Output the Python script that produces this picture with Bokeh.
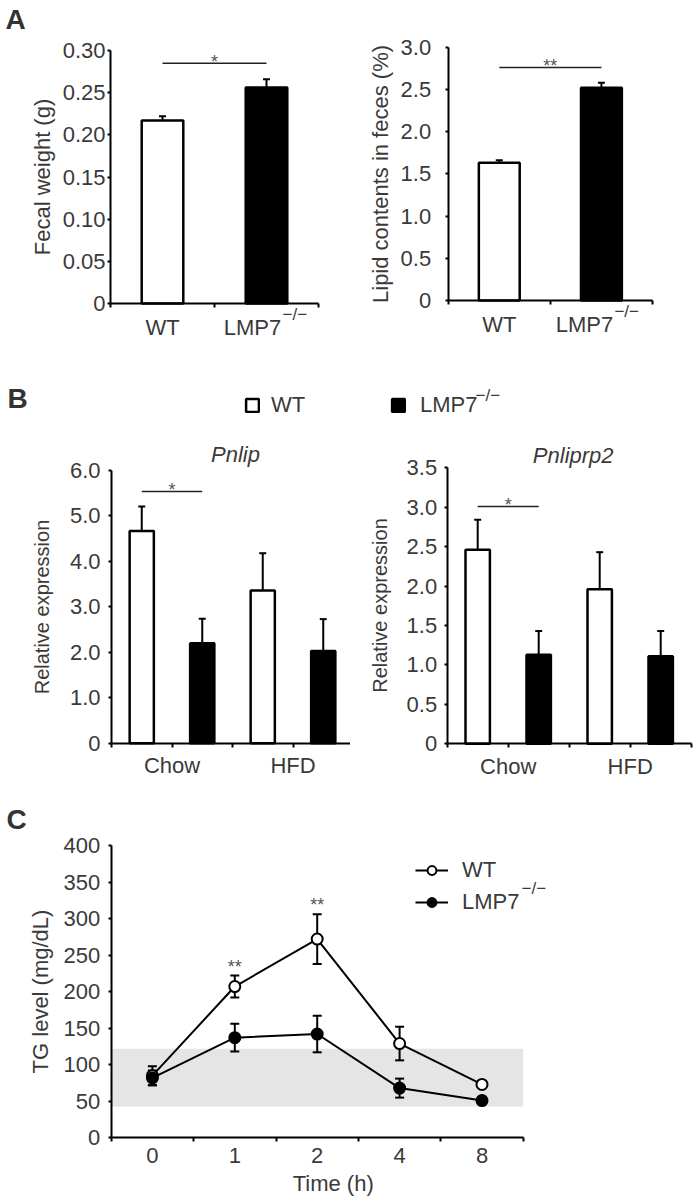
from bokeh.plotting import figure
from bokeh.models import (ColumnDataSource, Range1d, FixedTicker, Whisker, TeeHead, Label,
                          Legend, LegendItem, BoxAnnotation, NumeralTickFormatter, LinearAxis)
from bokeh.layouts import column, row
from bokeh.embed import file_html
from bokeh.resources import INLINE
from bokeh.core.properties import value

# ---------------- data ----------------
genotypes = ["WT", "LMP7"]
fecal_weight = [0.217, 0.256]
fecal_weight_err = [0.005, 0.010]
lipid_content = [1.63, 2.52]
lipid_content_err = [0.03, 0.06]
fecal_ticks = [0, 0.05, 0.10, 0.15, 0.20, 0.25, 0.30]
lipid_ticks = [0, 0.5, 1.0, 1.5, 2.0, 2.5, 3.0]
sig_fecal = ("*", 0.285)
sig_lipid = ("**", 2.76)

diets = ["Chow", "HFD"]
pnlip_wt = [4.67, 3.36]
pnlip_wt_err = [0.54, 0.82]
pnlip_ko = [2.20, 2.03]
pnlip_ko_err = [0.54, 0.70]
pnliprp2_wt = [2.46, 1.96]
pnliprp2_wt_err = [0.38, 0.47]
pnliprp2_ko = [1.13, 1.11]
pnliprp2_ko_err = [0.30, 0.32]
pnlip_ticks = [0, 1, 2, 3, 4, 5, 6]
pnliprp2_ticks = [0, 0.5, 1.0, 1.5, 2.0, 2.5, 3.0, 3.5]
sig_pnlip = ("*", 5.54)
sig_pnliprp2 = ("*", 3.01)

time_h = ["0", "1", "2", "4", "8"]
tg_wt = [85, 207, 272, 129, 73]
tg_wt_err = [13, 15, 34, 23, 4]
tg_ko = [82, 137, 142, 68, 51]
tg_ko_err = [10, 19, 25, 13, 5]
tg_sig = ["", "**", "**", "", ""]
tg_ticks = [0, 50, 100, 150, 200, 250, 300, 350, 400]
normal_range = [43, 122]

# ---------------- style ----------------
FONT = "Liberation Sans"
TXT = "#3a3a3a"
SUP = "\u2212/\u2212"


def style_axis(ax):
    ax.axis_line_width = 2
    ax.axis_line_color = "black"
    ax.major_tick_line_width = 2
    ax.major_tick_line_color = "black"
    ax.major_tick_in = 0
    ax.major_tick_out = 3
    ax.minor_tick_line_width = 2
    ax.minor_tick_line_color = "black"
    ax.minor_tick_in = 0
    ax.minor_tick_out = 4
    ax.major_label_text_font = FONT
    ax.major_label_text_font_size = "22px"
    ax.major_label_text_color = TXT
    ax.axis_label_text_font = FONT
    ax.axis_label_text_font_size = "22px"
    ax.axis_label_text_color = TXT
    ax.axis_label_text_font_style = "normal"


def make_fig(W, H, ox, oy, fw, fh, xmax, ymax):
    """Figure whose frame is the whole canvas; axes are pinned at data 0."""
    xs = xmax / fw
    ys = ymax / fh
    p = figure(width=W, height=H,
               x_range=Range1d(-ox * xs, (W - ox) * xs),
               y_range=Range1d(-(H - oy - fh) * ys, ymax + oy * ys),
               min_border=0, x_axis_location=None, y_axis_location=None,
               output_backend="svg", toolbar_location=None)
    p.outline_line_color = None
    p.xgrid.visible = False
    p.ygrid.visible = False
    xa = LinearAxis(fixed_location=0, bounds=(0, xmax))
    ya = LinearAxis(fixed_location=0, bounds=(0, ymax))
    style_axis(xa)
    style_axis(ya)
    p.add_layout(xa, "below")
    p.add_layout(ya, "left")
    for r in p.renderers:
        if r.__class__.__name__ == "Grid":
            r.visible = False
    return p, xa, ya


def yaxis_setup(ya, ticks, fmt, label, label_size, tick_standoff, label_standoff):
    ya.ticker = FixedTicker(ticks=ticks)
    ya.formatter = NumeralTickFormatter(format=fmt)
    ya.major_label_overrides = {0: "0"}
    ya.axis_label = label
    ya.axis_label_text_font_size = label_size
    ya.major_label_standoff = tick_standoff
    ya.axis_label_standoff = label_standoff


def bars(p, xs, tops, errs, color):
    src = ColumnDataSource(dict(x=xs, top=tops, upper=[t + e for t, e in zip(tops, errs)]))
    r = p.vbar(x="x", top="top", bottom=0, width=0.4, source=src, fill_color=color,
               line_color="black", line_width=2.5)
    p.add_layout(Whisker(source=src, base="x", lower="top", upper="upper", dimension="height",
                         line_width=2, line_color="black",
                         upper_head=TeeHead(size=7, line_width=2, line_color="black"),
                         lower_head=None))
    return r


def sig(p, x0, x1, y, txt):
    p.segment(x0=[x0], x1=[x1], y0=[y], y1=[y], line_color="#222222", line_width=1.5)
    p.text(x=[(x0 + x1) / 2], y=[y], text=[txt], text_align="center", text_baseline="alphabetic",
           y_offset=-1, text_font=value(FONT), text_font_size="18px", text_color="#555555")


def label(p, text, x, y, size="22px", align="center", style="normal", color=TXT, **kw):
    p.add_layout(Label(x=x, y=y, text=text, text_font=FONT, text_font_size=size,
                       text_font_style=style, text_color=color, text_align=align,
                       text_baseline="middle", **kw))


def letter(p, text, x, y):
    label(p, text, x, y, size="28px", align="left", style="bold", color="#333333",
          x_units="screen", y_units="screen")


def geno_labels(p, xs, ko_shift):
    label(p, genotypes[0], xs[0], 0, y_offset=-23.5)
    label(p, genotypes[1], xs[1], 0, x_offset=ko_shift, y_offset=-23.5)
    label(p, SUP, xs[1], 0, size="17px", align="left", x_offset=ko_shift + 30, y_offset=-10.5)


# ---------------- Panel A ----------------
xa_pos = [i + 0.5 for i in range(len(genotypes))]
bounds_a = [i for i in range(len(genotypes) + 1)]

pA1, xA1, yA1 = make_fig(350, 350, 110, 50, 208, 253, len(genotypes), fecal_ticks[-1])
xA1.ticker = FixedTicker(ticks=[], minor_ticks=bounds_a)
yaxis_setup(yA1, fecal_ticks, "0.00", "Fecal weight (g)", "22px", 2, 5)
bars(pA1, [xa_pos[0]], [fecal_weight[0]], [fecal_weight_err[0]], "white")
bars(pA1, [xa_pos[1]], [fecal_weight[1]], [fecal_weight_err[1]], "black")
sig(pA1, xa_pos[0], xa_pos[1], sig_fecal[1], sig_fecal[0])
geno_labels(pA1, xa_pos, -14)
letter(pA1, "A", 5, 331)

pA2, xA2, yA2 = make_fig(350, 350, 97.7, 46.7, 204.3, 253.3, len(genotypes), lipid_ticks[-1])
xA2.ticker = FixedTicker(ticks=[], minor_ticks=bounds_a)
yaxis_setup(yA2, lipid_ticks, "0.0", "Lipid contents in feces (%)", "22px", 14, 5)
bars(pA2, [xa_pos[0]], [lipid_content[0]], [lipid_content_err[0]], "white")
bars(pA2, [xa_pos[1]], [lipid_content[1]], [lipid_content_err[1]], "black")
sig(pA2, xa_pos[0], xa_pos[1], sig_lipid[1], sig_lipid[0])
geno_labels(pA2, xa_pos, -17)

# ---------------- Panel B ----------------
xb_wt = [2 * i + 0.5 for i in range(len(diets))]
xb_ko = [2 * i + 1.5 for i in range(len(diets))]
xb_lab = [2 * i + 1 for i in range(len(diets))]
bounds_b = [i for i in range(2 * len(diets) + 1)]


def diet_axis(xax):
    xax.ticker = FixedTicker(ticks=xb_lab, minor_ticks=bounds_b)
    xax.major_label_overrides = {x: d for x, d in zip(xb_lab, diets)}
    xax.major_tick_out = 0
    xax.major_label_standoff = 6


def legend_b(p, rend, name, x, y, standoff):
    p.add_layout(Legend(items=[LegendItem(label=name, renderers=[rend])],
                        location=(x, y), glyph_width=16, glyph_height=16,
                        label_standoff=standoff, padding=0, margin=0, border_line_color=None,
                        background_fill_alpha=0, label_text_font=FONT,
                        label_text_font_size="22px", label_text_color=TXT))


pB1, xB1, yB1 = make_fig(350, 440, 111, 120, 242, 272.7, 2 * len(diets), pnlip_ticks[-1])
diet_axis(xB1)
yaxis_setup(yB1, pnlip_ticks, "0.0", "Relative expression", "20px", 8, 14)
rB1_wt = bars(pB1, xb_wt, pnlip_wt, pnlip_wt_err, "white")
bars(pB1, xb_ko, pnlip_ko, pnlip_ko_err, "black")
sig(pB1, xb_wt[0], xb_ko[0], sig_pnlip[1], sig_pnlip[0])
label(pB1, "Pnlip", 2, pnlip_ticks[-1], style="italic", x_offset=3, y_offset=16)
legend_b(pB1, rB1_wt, genotypes[0], 244, 372.5, 11)
letter(pB1, "B", 7, 392.5)

pB2, xB2, yB2 = make_fig(350, 440, 96.7, 117.3, 244, 276, 2 * len(diets), pnliprp2_ticks[-1])
diet_axis(xB2)
yaxis_setup(yB2, pnliprp2_ticks, "0.0", "Relative expression", "20px", 7, 13)
bars(pB2, xb_wt, pnliprp2_wt, pnliprp2_wt_err, "white")
rB2_ko = bars(pB2, xb_ko, pnliprp2_ko, pnliprp2_ko_err, "black")
sig(pB2, xb_wt[0], xb_ko[0], sig_pnliprp2[1], sig_pnliprp2[0])
label(pB2, "Pnliprp2", 2, pnliprp2_ticks[-1], style="italic", x_offset=4, y_offset=12)
legend_b(pB2, rB2_ko, genotypes[1], 40, 372.5, 14)
label(pB2, SUP, 125, 395, size="17px", align="left", x_units="screen", y_units="screen")

# ---------------- Panel C ----------------
xc = [i + 0.5 for i in range(len(time_h))]
bounds_c = [i for i in range(len(time_h) + 1)]

pC, xC, yC = make_fig(700, 408, 110.7, 55, 412, 292.3, len(time_h), tg_ticks[-1])
xC.ticker = FixedTicker(ticks=xc, minor_ticks=bounds_c)
xC.major_label_overrides = {x: t for x, t in zip(xc, time_h)}
xC.major_tick_out = 0
xC.major_label_standoff = 6
yaxis_setup(yC, tg_ticks, "0", "TG level (mg/dL)", "22px", 8, 8)
label(pC, "Time (h)", len(time_h) / 2, 0, x_offset=16, y_offset=-46)

pC.add_layout(BoxAnnotation(bottom=normal_range[0], top=normal_range[1], left=0,
                            right=len(time_h), fill_color="#e5e5e5", fill_alpha=1,
                            line_color=None, level="underlay"))

src_wt = ColumnDataSource(dict(x=xc, y=tg_wt, lo=[v - e for v, e in zip(tg_wt, tg_wt_err)],
                               hi=[v + e for v, e in zip(tg_wt, tg_wt_err)], sig=tg_sig))
src_ko = ColumnDataSource(dict(x=xc, y=tg_ko, lo=[v - e for v, e in zip(tg_ko, tg_ko_err)],
                               hi=[v + e for v, e in zip(tg_ko, tg_ko_err)]))
for src in (src_wt, src_ko):
    pC.add_layout(Whisker(source=src, base="x", lower="lo", upper="hi", dimension="height",
                          line_width=2, line_color="black", level="underlay",
                          upper_head=TeeHead(size=9, line_width=2, line_color="black"),
                          lower_head=TeeHead(size=9, line_width=2, line_color="black")))

l_wt = pC.line("x", "y", source=src_wt, line_color="black", line_width=2)
s_wt = pC.scatter("x", "y", source=src_wt, size=11, fill_color="white", line_color="black",
                  line_width=2)
l_ko = pC.line("x", "y", source=src_ko, line_color="black", line_width=2)
s_ko = pC.scatter("x", "y", source=src_ko, size=11, fill_color="black", line_color="black",
                  line_width=2)
pC.text(x="x", y="hi", text="sig", source=src_wt, text_align="center",
        text_baseline="alphabetic", y_offset=-9, text_font=value(FONT), text_font_size="18px",
        text_color="#555555")

pC.add_layout(Legend(items=[LegendItem(label=genotypes[0], renderers=[l_wt, s_wt]),
                            LegendItem(label=genotypes[1], renderers=[l_ko, s_ko])],
                     location=(415, 283.5), orientation="vertical", glyph_width=33,
                     glyph_height=22, label_standoff=14, spacing=6, padding=0, margin=0,
                     border_line_color=None, background_fill_alpha=0, label_text_font=FONT,
                     label_text_font_size="22px", label_text_color=TXT))
label(pC, SUP, 521, 310, size="17px", align="left", x_units="screen", y_units="screen")
letter(pC, "C", 6, 379)

layout = column(row(pA1, pA2), row(pB1, pB2), pC)
open("out.html", "w").write(file_html(layout, INLINE))
